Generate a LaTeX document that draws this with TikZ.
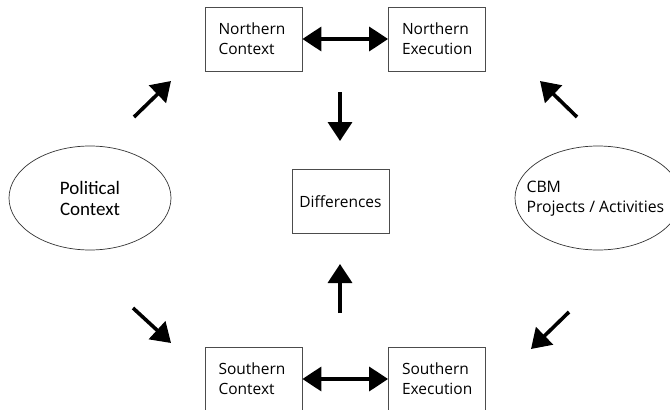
\documentclass[tikz,border=0pt]{standalone}
\usepackage{fontspec}
\setmainfont{Open Sans}
\newfontfamily\calfont{Carlito}
\usetikzlibrary{arrows.meta,shapes.geometric}
\begin{document}
\begin{tikzpicture}[x=1pt, y=-1pt,
    box/.style={draw=black!70, line width=0.8pt, minimum width=97pt, minimum height=64pt, align=left, font=\fontsize{15.5}{20}\selectfont, text width=70pt},
    oval/.style={draw=black!80, line width=0.7pt, ellipse, minimum width=162pt, minimum height=104pt},
    bigarrow/.style={line width=3.6pt, -{Triangle[length=19pt, width=24pt]}},
    bothway/.style={line width=3.6pt, {Triangle[length=19pt, width=24pt]}-{Triangle[length=19pt, width=24pt]}}]
    \useasboundingbox (0,0) rectangle (670,410);

    % boxes
    \node[box] (nc) at (253.5, 39) {Northern\\Context};
    \node[box] (ne) at (437, 39) {Northern\\Execution};
    \node[box] (sc) at (253.5, 379) {Southern\\Context};
    \node[box] (se) at (437, 379) {Southern\\Execution};
    \node[box, text width=85pt, align=center] (diff) at (340.5, 201.5) {Differences};

    % ovals
    \node[oval, font=\calfont\fontsize{19}{21}\selectfont, align=center] (pol) at (90, 198) {Political\\Context};
    \node[oval, minimum width=166pt] (cbm) at (598, 198) {};
    \node[anchor=west, align=left, font=\fontsize{15.8}{20}\selectfont] (cbmtxt) at (523, 199) {CBM\\Projects / Activities};

    % arrows between boxes
    \draw[bothway] (nc) -- (ne);
    \draw[bothway] (sc) -- (se);

    % free arrows
    \coordinate (a1) at (134, 117); \coordinate (a2) at (171, 81);
    \coordinate (b1) at (577, 117); \coordinate (b2) at (540, 81);
    \coordinate (c1) at (133, 308); \coordinate (c2) at (171, 343);
    \coordinate (d1) at (569, 312); \coordinate (d2) at (531, 349);
    \coordinate (e1) at (340, 92); \coordinate (e2) at (340, 141);
    \coordinate (f1) at (340, 313); \coordinate (f2) at (340, 264);
    \foreach \s/\t in {a1/a2, b1/b2, c1/c2, d1/d2, e1/e2, f1/f2} {
        \draw[bigarrow] (\s) -- (\t);
    }
\end{tikzpicture}
\end{document}
